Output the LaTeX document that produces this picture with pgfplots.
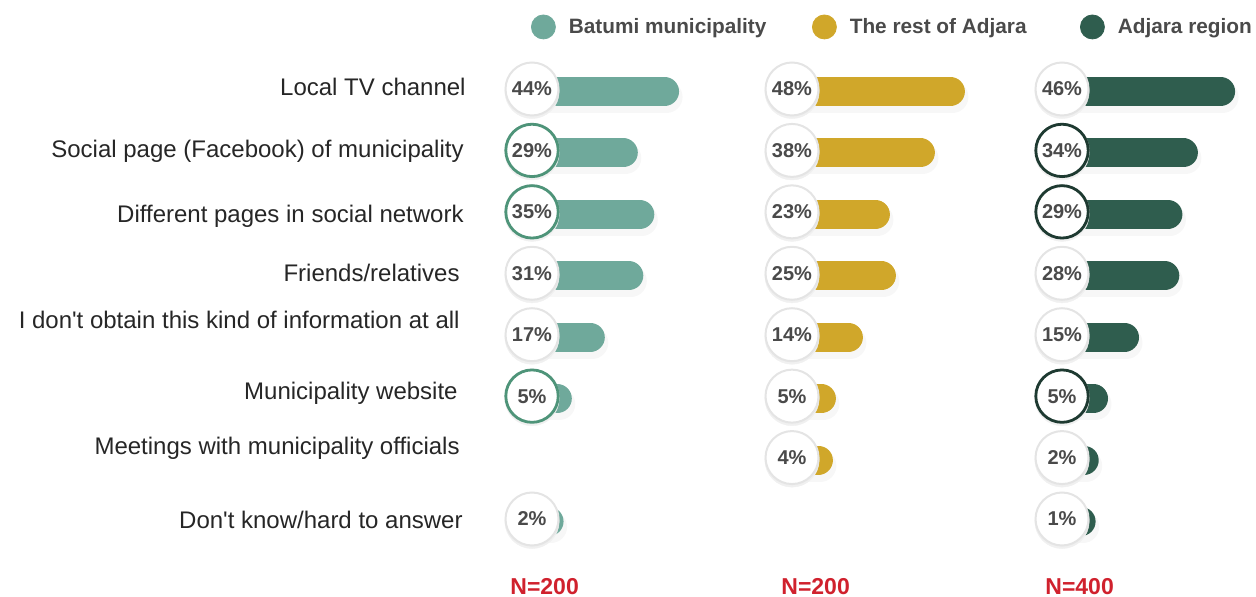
\documentclass[border=0pt]{standalone}
\usepackage{fontspec}
\setmainfont{Liberation Sans}
\usepackage{pgfplots}
\pgfplotsset{compat=1.18}
\usepackage{pgfplotstable}
\definecolor{cA}{HTML}{6FA99B}
\definecolor{cB}{HTML}{D0A72A}
\definecolor{cC}{HTML}{2F5D4E}
\definecolor{hA}{HTML}{4E9479}
\definecolor{hC}{HTML}{1E3A31}
\definecolor{ring}{HTML}{E4E4E4}
\definecolor{shad}{HTML}{F0F0F0}
\definecolor{pct}{HTML}{4A4A4A}
\definecolor{lab}{HTML}{262626}
\definecolor{nred}{HTML}{D0212D}

% r = row (1 = Local TV channel ... 8 = Don't know), v = percent
\pgfplotstableread{
r v
1 44
2 29
3 35
4 31
5 17
6 5
8 2
}\tA
\pgfplotstableread{
r v
1 48
2 38
3 23
4 25
5 14
6 5
7 4
}\tB
\pgfplotstableread{
r v
1 46
2 34
3 29
4 28
5 15
6 5
7 2
8 1
}\tC

\pgfplotsset{
  panel/.style={hide axis, clip=false, y dir=reverse, ymin=0.5, ymax=8.5,
    y=30.715pt, anchor=south west,
    /pgf/number format/assume math mode=true,
    legend style={draw=none, fill=none, inner sep=0pt, outer sep=0pt, anchor=west,
      font=\fontsize{10.4}{12}\selectfont\bfseries, text=pct,
      /tikz/column sep=6.5pt, nodes={inner sep=0pt}},
  },
}

% #1 table, #2 bar colour, #3 highlight colour, #4 circle offset, #5 highlighted circles
\newcommand\panelplots[5]{%
  \addplot[forget plot, xcomb, line width=16pt, line cap=round, black, opacity=0.03,
    yshift=-4pt, xshift=1pt] table[x=v,y=r]{#1};
  \addplot[forget plot, xcomb, line width=14.5pt, line cap=round, #2,
    yshift=-1.25pt] table[x=v,y=r]{#1};
  \addplot[forget plot, only marks, color=shad, mark=*, mark size=13.6pt,
    mark options={fill=shad, draw=shad, line width=0.2pt}, yshift=-1.2pt]
    table[x expr=-#4, y=r]{#1};
  \addplot[forget plot, only marks, color=ring, mark=*, mark size=13.25pt,
    mark options={fill=white, draw=ring, line width=1pt}]
    table[x expr=-#4, y=r]{#1};
  \addplot[forget plot, only marks, color=#3, mark=*, mark size=13.1pt,
    mark options={fill=white, draw=#3, line width=1.4pt}] coordinates {#5};
  \addplot[forget plot, draw=none, mark=none, point meta=\thisrow{v},
    nodes near coords={\pgfmathprintnumber{\pgfplotspointmeta}\%},
    every node near coord/.append style={anchor=center, inner sep=0pt,
      font=\fontsize{10}{12}\selectfont\bfseries, text=pct}]
    table[x expr=-#4, y=r]{#1};
}

\begin{document}
\begin{tikzpicture}
\path[use as bounding box] (0,0) rectangle (628pt,298pt);

\begin{axis}[panel, x=1.375pt, xmin=-4.2, xmax=50, at={(266pt,23.15pt)},
  legend style={at={(-0.0067,1.0637)}}]
  \panelplots{\tA}{cA}{hA}{4.2}{(-4.2,2) (-4.2,3) (-4.2,6)}
  \addlegendimage{legend image code/.code={\fill[cA] (6pt,0pt) circle[radius=6pt];}}
  \addlegendentry{Batumi municipality}
\end{axis}

\begin{axis}[panel, x=1.5pt, xmin=-4.8, xmax=55, at={(396pt,23.15pt)},
  legend style={at={(0.1115,1.0637)}}]
  \panelplots{\tB}{cB}{ring}{4.8}{}
  \addlegendimage{legend image code/.code={\fill[cB] (6pt,0pt) circle[radius=6pt];}}
  \addlegendentry{The rest of Adjara}
\end{axis}

\begin{axis}[panel, x=1.55pt, xmin=-5.16, xmax=55, at={(531pt,23.15pt)},
  legend style={at={(0.0965,1.0637)}}]
  \panelplots{\tC}{cC}{hC}{5.16}{(-5.16,2) (-5.16,3) (-5.16,6)}
  \addlegendimage{legend image code/.code={\fill[cC] (6pt,0pt) circle[radius=6pt];}}
  \addlegendentry{Adjara region}
\end{axis}

\begin{scope}[every node/.style={anchor=base east, inner sep=0pt, text=lab,
    font=\fontsize{12}{14}\selectfont}]
  \node at (233pt,250.5pt) {Local TV channel};
  \node at (232pt,219.5pt) {Social page (Facebook) of municipality};
  \node at (232pt,187pt) {Different pages in social network};
  \node at (230pt,157.5pt) {Friends/relatives};
  \node at (230pt,134pt) {I don\textquotesingle t obtain this kind of information at all};
  \node at (229pt,98.5pt) {Municipality website};
  \node at (230pt,71pt) {Meetings with municipality officials};
  \node at (231.5pt,34pt) {Don\textquotesingle t know/hard to answer};
\end{scope}
\begin{scope}[every node/.style={anchor=base west, inner sep=0pt, text=nred,
    font=\fontsize{11.5}{14}\selectfont\bfseries}]
  \node at (255pt,1pt) {N=200};
  \node at (390.5pt,1pt) {N=200};
  \node at (522.5pt,1pt) {N=400};
\end{scope}
\end{tikzpicture}
\end{document}
